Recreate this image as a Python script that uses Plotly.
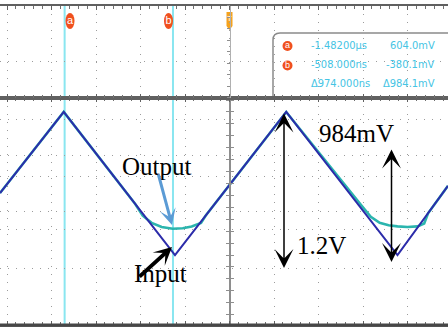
import plotly.graph_objects as go

# ---- data -------------------------------------------------------------
# time in ns, voltage in V
in_t = [-2063, -1490, -490, 510, 1510, 1964]
in_v = [-0.08, 0.60, -0.60, 0.60, -0.60, -0.02]

out_t = [-2063, -1490, -849, -780, -700, -610, -510, -420, -340, -256, -215,
         510, 1190, 1270, 1350, 1430, 1510, 1600, 1690, 1750, 1785, 1964]
out_v = [-0.08, 0.60, -0.17, -0.27, -0.33, -0.365, -0.38, -0.375, -0.36, -0.33, -0.27,
         0.60, -0.19, -0.28, -0.33, -0.35, -0.36, -0.365, -0.36, -0.335, -0.25, -0.02]

cursor_t = [-1482, -508]
cursor_names = ["a", "b"]
readout_time = ["-1.48200µs", "-508.000ns", "Δ974.000ns"]
readout_volt = ["604.0mV", "-380.1mV", "Δ984.1mV"]
labels = ["Output", "Input", "984mV", "1.2V"]

# ---- geometry helpers (screen pixels -> axis / paper units) ------------
W, H = 448, 328
NS_PER_DIV, PX_PER_DIV, X0 = 400, 44.5, 229.5
V0_PX, PX_PER_V = 183.5, 119.2
MAIN_TOP, MAIN_BOT, ZOOM_TOP = 97.5, 325, 5.5


def px2t(px):
    return (px - X0) * NS_PER_DIV / PX_PER_DIV


def py2v(py):
    return (V0_PX - py) / PX_PER_V


def py2z(py):
    # pixel row -> 0..1 units of the zoom strip
    return (MAIN_TOP - py) / (MAIN_TOP - ZOOM_TOP)


def xp(px):
    return px / W


def yp(py):
    return 1 - py / H


xr = [px2t(0), px2t(W)]
yr = [py2v(MAIN_BOT), py2v(MAIN_TOP)]
main_dom = [yp(MAIN_BOT), yp(MAIN_TOP)]
zoom_dom = [yp(MAIN_TOP), yp(ZOOM_TOP)]

GRID = "#9c9c9c"
DOTS = "1px,7px"
ORANGE_RED = "#f0501e"
grid_t = [-2000 + 400 * i for i in range(10)]
grid_v = [py2v(p) for p in (119, 155, 176, 211, 229, 268)]

fig = go.Figure()

fig.add_trace(go.Scatter(x=out_t, y=out_v, mode="lines",
                         line=dict(color="#2bb5ae", width=2.6),
                         showlegend=False, hoverinfo="skip"))
fig.add_trace(go.Scatter(x=in_t, y=in_v, mode="lines",
                         line=dict(color="#2c2caa", width=2),
                         showlegend=False, hoverinfo="skip"))
# placeholders so the overlay axes get drawn
for ya, xa in (("y3", "x"), ("y4", "x"), ("y5", "x2")):
    fig.add_trace(go.Scatter(x=[None], y=[None], xaxis=xa, yaxis=ya,
                             showlegend=False, hoverinfo="skip"))

# cursor letters on the tags above the zoom strip
fig.add_trace(go.Scatter(
    x=[px2t(70), px2t(168.5)], y=[py2z(21), py2z(21)], mode="text",
    text=cursor_names, textposition="middle center",
    textfont=dict(family="Liberation Sans, Arial", size=11, color="white"),
    xaxis="x2", yaxis="y2", showlegend=False, hoverinfo="skip"))
# round badges in the readout panel
fig.add_trace(go.Scatter(
    x=[px2t(287.5), px2t(287.5)], y=[py2z(46), py2z(65.5)], mode="markers+text",
    text=cursor_names, textposition="middle center",
    marker=dict(symbol="circle", size=10, color=ORANGE_RED, line=dict(width=0)),
    textfont=dict(family="Liberation Sans, Arial", size=9, color="white"),
    xaxis="x2", yaxis="y2", showlegend=False, hoverinfo="skip"))
# trigger letter
fig.add_trace(go.Scatter(
    x=[px2t(X0)], y=[py2z(19)], mode="text", text=["T"],
    textfont=dict(family="Liberation Sans, Arial", size=8, color="white"),
    xaxis="x2", yaxis="y2", showlegend=False, hoverinfo="skip"))

common_x = dict(range=xr, tickvals=grid_t, showticklabels=False, showgrid=True,
                gridcolor=GRID, griddash=DOTS, gridwidth=1, zeroline=False,
                showline=True, linecolor="#606060", linewidth=2, mirror="ticks",
                ticks="inside", ticklen=4, tickcolor="#606060",
                minor=dict(dtick=80, tick0=0, ticks="inside", ticklen=3,
                           tickcolor="#707070", showgrid=False))

fig.update_layout(
    width=W, height=H, autosize=False,
    margin=dict(l=0, r=0, t=0, b=0),
    paper_bgcolor="white", plot_bgcolor="white",
    xaxis=dict(domain=[0, 1], anchor="y", **common_x),
    xaxis2=dict(domain=[0, 1], anchor="y2", matches="x", **common_x),
    yaxis=dict(domain=main_dom, range=yr, tickvals=grid_v, showticklabels=False,
               showgrid=True, gridcolor=GRID, griddash=DOTS, gridwidth=1,
               zeroline=False, showline=False, ticks=""),
    yaxis2=dict(domain=zoom_dom, anchor="x2", range=[0, 1], tickvals=[0.386],
                showticklabels=False, showgrid=True, gridcolor=GRID,
                griddash=DOTS, gridwidth=1, zeroline=False, ticks=""),
    # centre graticule line with its small tick marks on both sides
    yaxis3=dict(overlaying="y", anchor="free", position=xp(X0), range=yr,
                showline=True, linecolor="#8e8e8e", linewidth=2,
                ticks="outside", ticklen=3, tickcolor="#8e8e8e",
                dtick=0.1, tick0=0, showticklabels=False, showgrid=False,
                zeroline=False),
    yaxis4=dict(overlaying="y", anchor="free", position=xp(X0), range=yr,
                showline=False, ticks="inside", ticklen=3, tickcolor="#8e8e8e",
                dtick=0.1, tick0=0, showticklabels=False, showgrid=False,
                zeroline=False),
    yaxis5=dict(overlaying="y2", anchor="free", position=xp(X0), range=[0, 1],
                showline=True, linecolor="#b0b0b0", linewidth=1,
                ticks="outside", ticklen=3, tickcolor="#8e8e8e",
                dtick=0.125, tick0=0, showticklabels=False, showgrid=False,
                zeroline=False),
)

shapes = []
# heavier frame line along the bottom
shapes.append(dict(type="line", xref="paper", yref="paper", x0=0, x1=1,
                   y0=yp(MAIN_BOT), y1=yp(MAIN_BOT),
                   line=dict(color="#474747", width=3), layer="above"))
# cursors a / b across both panels
for t in cursor_t:
    shapes.append(dict(type="line", xref="x", yref="paper", x0=t, x1=t,
                       y0=yp(MAIN_BOT), y1=yp(ZOOM_TOP),
                       line=dict(color="#8ae6f0", width=2), layer="between"))
# oval cursor tags at the top
for a, b in [(65.5, 74.5), (164, 173)]:
    shapes.append(dict(type="circle", xref="paper", yref="paper",
                       x0=xp(a), x1=xp(b), y0=yp(29), y1=yp(13),
                       fillcolor=ORANGE_RED, line=dict(width=0), layer="below"))
# trigger marker
tx = X0
trig = (f"M{xp(tx-3)},{yp(12)} L{xp(tx+3)},{yp(12)} L{xp(tx+3)},{yp(26)} "
        f"L{xp(tx)},{yp(30)} L{xp(tx-3)},{yp(26)} Z")
shapes.append(dict(type="path", xref="paper", yref="paper", path=trig,
                   fillcolor="#f5a21c", line=dict(width=0), layer="below"))
# cursor readout panel
shapes.append(dict(type="rect", xref="paper", yref="paper",
                   x0=xp(273), x1=xp(455), y0=yp(96), y1=yp(33),
                   fillcolor="white", line=dict(width=0), layer="between"))
box = (f"M{xp(273)},{yp(96)} L{xp(273)},{yp(40)} "
       f"Q{xp(273)},{yp(33)} {xp(280)},{yp(33)} L{xp(455)},{yp(33)}")
shapes.append(dict(type="path", xref="paper", yref="paper", path=box,
                   line=dict(color="#8a8a8a", width=1.5), layer="between"))
fig.update_layout(shapes=shapes)

ann = []
RO_FONT = dict(family="Liberation Sans Narrow, DejaVu Sans Condensed, Arial Narrow, sans-serif",
               size=11, color="#45c4e4")
for row_y, tt, vv in zip((45, 64.5, 83.5), readout_time, readout_volt):
    ann.append(dict(xref="paper", yref="paper", x=xp(309), y=yp(row_y), text=tt,
                    showarrow=False, xanchor="left", yanchor="middle", font=RO_FONT))
    ann.append(dict(xref="paper", yref="paper", x=xp(437), y=yp(row_y), text=vv,
                    showarrow=False, xanchor="right", yanchor="middle", font=RO_FONT))

SERIF = "Liberation Serif, Times New Roman, serif"
TXT = dict(family=SERIF, size=25, color="black")
ann.append(dict(xref="paper", yref="paper", x=xp(157), y=yp(166), text=labels[0],
                showarrow=False, font=TXT))
ann.append(dict(xref="paper", yref="paper", x=xp(132), y=yp(289), text=labels[1],
                showarrow=False, font=TXT))
ann.append(dict(xref="paper", yref="paper", x=xp(396), y=yp(133), text=labels[2],
                showarrow=False, font=TXT))
ann.append(dict(xref="paper", yref="paper", x=xp(295), y=yp(261), text=labels[3],
                showarrow=False, xanchor="left", font=TXT))


def arrow(tip, tail, color, width, size, both=False):
    d = dict(xref="paper", yref="paper", x=xp(tip[0]), y=yp(tip[1]),
             ax=tail[0] - tip[0], ay=tail[1] - tip[1], text="",
             showarrow=True, arrowhead=3, arrowsize=size, arrowwidth=width,
             arrowcolor=color, standoff=0, startstandoff=0)
    if both:
        d.update(arrowside="end+start", startarrowhead=3, startarrowsize=size)
    return d


ann.append(arrow((172, 225), (158, 173), "#5b9bd5", 3, 0.9))
ann.append(arrow((172, 247), (138, 278), "black", 4, 0.75))
ann.append(arrow((284, 268), (284, 112), "black", 1.5, 2.1, both=True))
ann.append(arrow((391.5, 262), (391.5, 148), "black", 1.5, 2.1, both=True))
fig.update_layout(annotations=ann)

fig.write_html("out.html")
